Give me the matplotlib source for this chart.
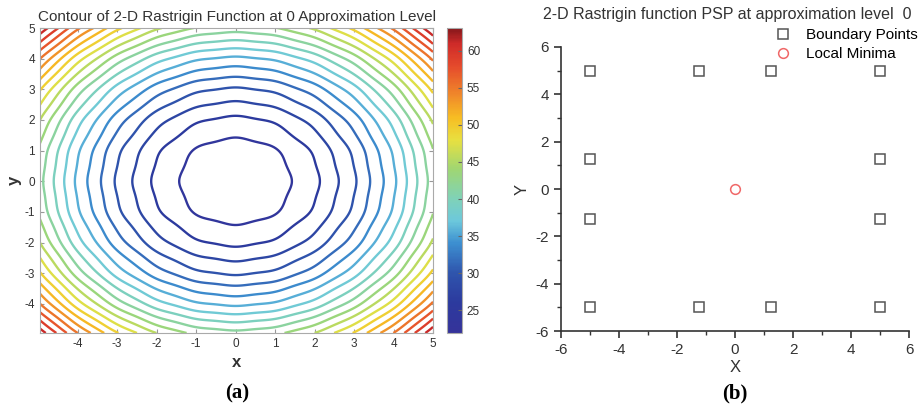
import numpy as np
import matplotlib
matplotlib.use('Agg')
import matplotlib.pyplot as plt
from matplotlib.colors import Normalize, LinearSegmentedColormap
from matplotlib.cm import ScalarMappable
from matplotlib.ticker import MultipleLocator

plt.rcParams['font.family'] = ['Liberation Sans', 'DejaVu Sans']
plt.rcParams['axes.unicode_minus'] = False

# level-0 approximation of the Rastrigin surface (coefficients)
base = 22.2
quad = 0.82
ripple = 0.07
zmin, zmax = 21.9, 63.1
n_levels = 20

# colours sampled from the reference colour bar (MATLAB jet as printed)
cbar_vals = [21.9, 26, 30, 34, 37, 40, 44, 48, 51, 54, 58, 61, 63.1]
cbar_cols = ['#35339a', '#2c3a9e', '#2f55ad', '#3d8fd0', '#6cc8dc', '#7fd2b8',
             '#9fd673', '#e8e040', '#f7bd23', '#f08a2a', '#e54a2c', '#cf2b29', '#86171b']

# PSP points (panel b)
bx = [-5, -1.25, 1.25, 5, -5, 5, -5, 5, -5, -1.25, 1.25, 5]
by = [5, 5, 5, 5, 1.25, 1.25, -1.25, -1.25, -5, -5, -5, -5]
mx = [0]
my = [0]

g = np.linspace(-4.95, 5, 300)
X, Y = np.meshgrid(g, g)
Z = base + quad * (X**2 + Y**2) - ripple * (np.cos(2*np.pi*X) + np.cos(2*np.pi*Y))
levels = np.linspace(zmin, zmax, n_levels + 2)[1:-1]

pos = [(v - zmin) / (zmax - zmin) for v in cbar_vals]
cmap = LinearSegmentedColormap.from_list('ref_jet', list(zip(pos, cbar_cols)))
norm = Normalize(zmin, zmax)

fig = plt.figure(figsize=(9.2, 4.13), dpi=100)

# ---- (a) contour
ax = fig.add_axes([0.0435, 0.1937, 0.4272, 0.7385])
ax.contour(X, Y, Z, levels=levels, cmap=cmap, norm=norm, linewidths=1.7)
ax.set_xlim(-4.95, 5)
ax.set_ylim(-4.95, 5)
ax.set_xticks(range(-4, 6))
ax.set_yticks(range(-4, 6))
ax.tick_params(direction='in', top=True, right=True, labelsize=8.5, length=3,
               colors='#999999', labelcolor='#333333')
for s in ax.spines.values():
    s.set_color('#aaaaaa')
ax.set_title('Contour of 2-D Rastrigin Function at 0 Approximation Level',
             fontsize=11, color='#333333', pad=5)
ax.set_xlabel('x', fontsize=12, fontweight='bold', color='#333333', labelpad=4)
ax.set_ylabel('y', fontsize=12, fontweight='bold', color='#333333', labelpad=2)

cax = fig.add_axes([0.4859, 0.1937, 0.0163, 0.7385])
cb = fig.colorbar(ScalarMappable(norm=norm, cmap=cmap), cax=cax)
cb.set_ticks([25, 30, 35, 40, 45, 50, 55, 60])
cb.ax.tick_params(labelsize=8.5, direction='in', length=3, colors='#666666',
                  labelcolor='#333333')
cb.outline.set_edgecolor('#aaaaaa')

# ---- (b) PSP points
ax2 = fig.add_axes([0.6098, 0.1985, 0.3783, 0.6877])
ax2.plot(bx, by, 's', mfc='none', mec='#555555', ms=6.5, mew=1.1, label='Boundary Points')
ax2.plot(mx, my, 'o', mfc='none', mec='#f06868', ms=7, mew=1.1, label='Local Minima')
ax2.set_xlim(-6, 6)
ax2.set_ylim(-6, 6)
ax2.xaxis.set_major_locator(MultipleLocator(2))
ax2.yaxis.set_major_locator(MultipleLocator(2))
ax2.xaxis.set_minor_locator(MultipleLocator(1))
ax2.yaxis.set_minor_locator(MultipleLocator(1))
ax2.spines['top'].set_visible(False)
ax2.spines['right'].set_visible(False)
for s in ['left', 'bottom']:
    ax2.spines[s].set_color('#333333')
    ax2.spines[s].set_linewidth(1.2)
ax2.tick_params(which='major', direction='out', length=5, width=1.2, labelsize=11,
                colors='#333333')
ax2.tick_params(which='minor', direction='out', length=3, width=1.0, colors='#333333')
fig.text(0.7902, 1 - 15/413, '2-D Rastrigin function PSP at approximation level  0',
         fontsize=11.5, color='#333333', ha='center', va='center')
ax2.set_xlabel('X', fontsize=12, color='#333333', labelpad=2)
ax2.set_ylabel('Y', fontsize=12, color='#333333', labelpad=4)
ax2.legend(loc='upper left', bbox_to_anchor=(775/920, 1 - 28/413),
           bbox_transform=fig.transFigure, frameon=False, fontsize=11,
           handlelength=1.0, handletextpad=1.0, labelspacing=0.36,
           borderpad=0, borderaxespad=0)

fig.text(0.2576, 0.035, '(a)', fontsize=15, fontweight='bold', family='Liberation Serif',
         ha='center')
fig.text(0.799, 0.035, '(b)', fontsize=15, fontweight='bold', family='Liberation Serif',
         ha='center')

fig.savefig('out.png', dpi=100)
